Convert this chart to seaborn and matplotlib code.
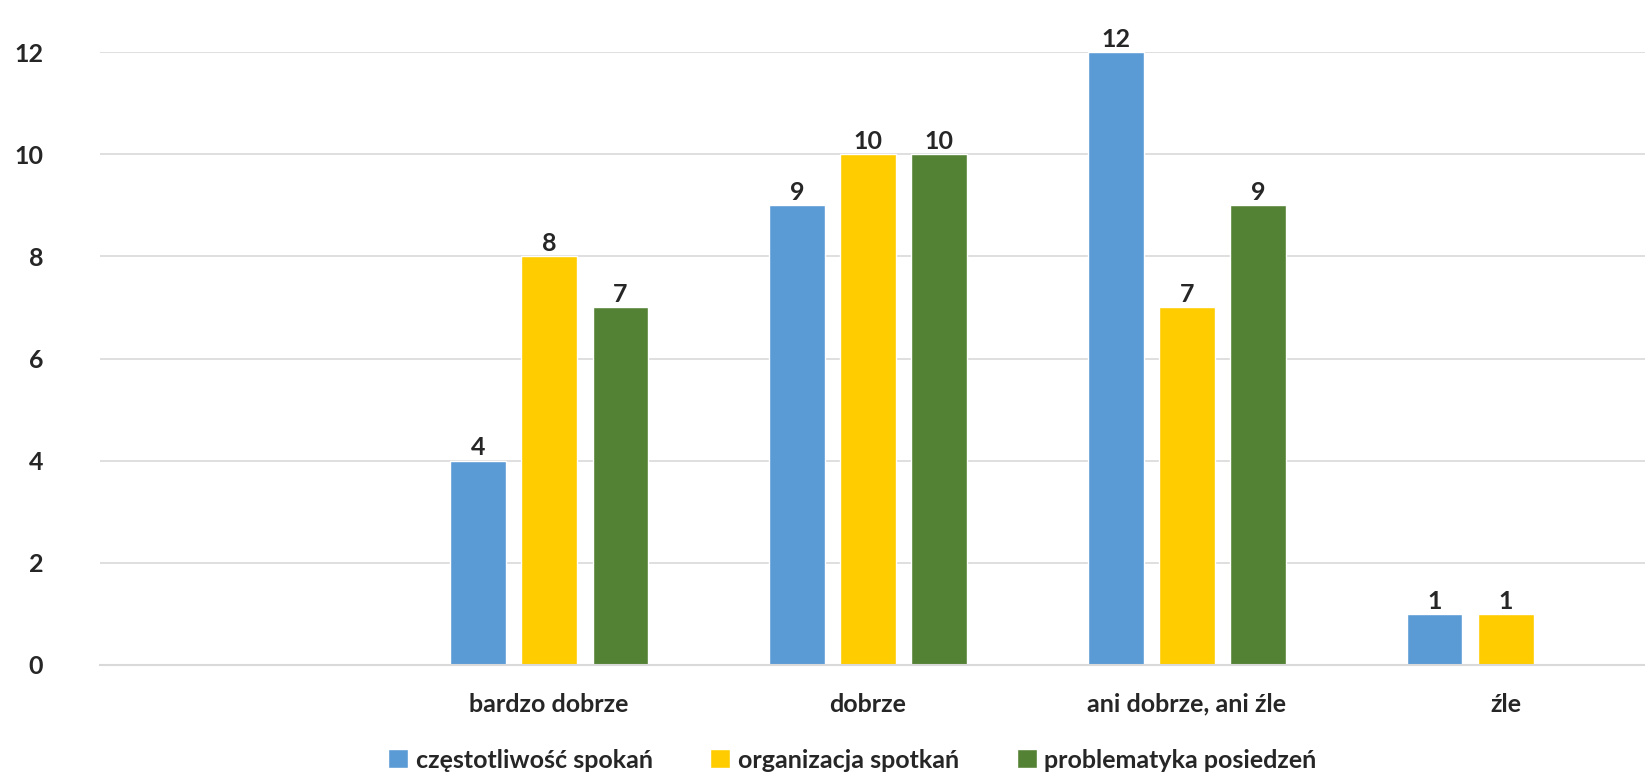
import pandas as pd
import matplotlib.pyplot as plt
import seaborn as sns

# ==================================================
# DATA
# ==================================================
categories = [' ', 'bardzo dobrze', 'dobrze', 'ani dobrze, ani źle', 'źle']
series = ['częstotliwość spokań', 'organizacja spotkań', 'problematyka posiedzeń']
czestotliwosc = [None, 4, 9, 12, 1]
organizacja = [None, 8, 10, 7, 1]
problematyka = [None, 7, 10, 9, None]
colors = ['#5B9BD5', '#FFCC00', '#548235']

rows = []
for name, vals in zip(series, [czestotliwosc, organizacja, problematyka]):
    for cat, v in zip(categories, vals):
        if v is not None:
            rows.append({'kategoria': cat, 'seria': name, 'liczba': v})
df = pd.DataFrame(rows)

# ==================================================
# PLOT
# ==================================================
sns.set_style('white')
plt.rcParams['font.family'] = ['Lato', 'DejaVu Sans']
plt.rcParams['font.weight'] = 'bold'

fig = plt.figure(figsize=(16.45, 7.76), dpi=100)
ax = fig.add_axes([100 / 1645, (776 - 665) / 776, 1 - 100 / 1645, (665 - 52) / 776])

sns.barplot(data=df, x='kategoria', y='liczba', hue='seria', order=categories,
            hue_order=series, palette=colors, width=0.67, gap=0.22,
            saturation=1, ax=ax, legend=True)

for c in ax.containers:
    ax.bar_label(c, padding=1, fontsize=18, fontweight='bold', color='#262626')

ax.set_ylim(0, 12)
ax.set_yticks(range(0, 13, 2))
ax.set_xlim(-0.408, 4.436)
ax.yaxis.grid(True, color='#D9D9D9', linewidth=1.2)
ax.set_axisbelow(True)
for s in ['top', 'right', 'left']:
    ax.spines[s].set_visible(False)
ax.spines['bottom'].set_color('#D9D9D9')
ax.spines['bottom'].set_linewidth(1.5)
ax.tick_params(axis='y', length=0, pad=41, labelsize=18, labelcolor='#262626')
ax.tick_params(axis='x', length=0, pad=20, labelsize=18, labelcolor='#262626')
for lab in ax.get_xticklabels() + ax.get_yticklabels():
    lab.set_fontweight('bold')
ax.set_xlabel('')
ax.set_ylabel('')

ax.legend(loc='center', bbox_to_anchor=(0.487, -0.155), ncol=3, frameon=False,
          handlelength=0.8, handleheight=0.8, handletextpad=0.3,
          columnspacing=2.3, labelcolor='#262626', prop={'weight': 'bold', 'size': 18})

plt.savefig('out.png', dpi=100)
